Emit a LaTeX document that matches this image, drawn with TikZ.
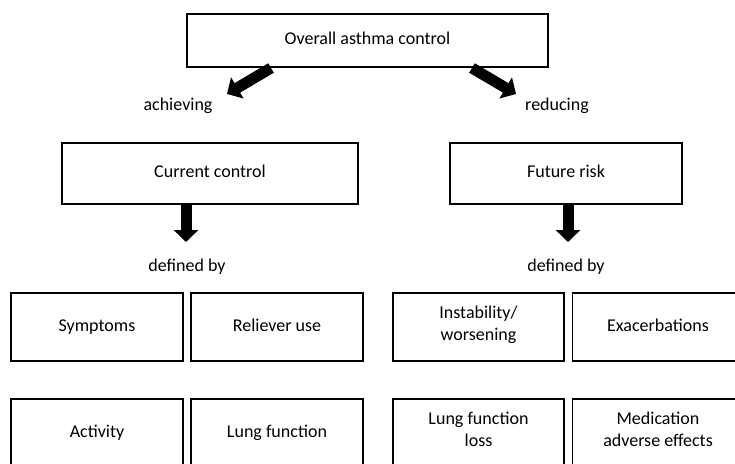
\documentclass[tikz,border=0pt]{standalone}
\usepackage{fontspec}
\setmainfont{Carlito}
\usetikzlibrary{arrows.meta}

\tikzset{
  box/.style={draw, line width=1.5pt, align=center, inner sep=0pt, execute at begin node=\strut},
  fat/.style={line width=11pt, -{Triangle[length=12pt,width=24pt]}},
}

\begin{document}
\begin{tikzpicture}[x=1pt, y=-1pt, font=\fontsize{18}{22}\selectfont]

\useasboundingbox (0,0) rectangle (735,463) ;
\clip (0,0) rectangle (735,463) ;

\node [box, minimum width=361pt, minimum height=53pt] (overall) at (367.5,40.5) {Overall asthma control} ;

\node (achieving) at (178,106) {achieving} ;
\node (reducing) at (557,106) {reducing} ;

\node [box, minimum width=296pt, minimum height=61pt] (current) at (210,173.5) {Current control} ;
\node [box, minimum width=232pt, minimum height=61pt] (future) at (566,173.5) {Future risk} ;

\node (defL) at (187,267) {defined by} ;
\node (defR) at (566,267) {defined by} ;

% current control, defined by
\node [box, minimum width=172pt, minimum height=68pt] (symptoms) at (97,327) {Symptoms} ;
\node [box, minimum width=172pt, minimum height=68pt] (reliever) at (277,327) {Reliever use} ;
\node [box, minimum width=172pt, minimum height=68pt] (activity) at (97,433) {Activity} ;
\node [box, minimum width=172pt, minimum height=68pt] (lungfn) at (277,433) {Lung function} ;

% future risk, defined by
\node [box, minimum width=171pt, minimum height=68pt] (instab) at (478.5,327) {Instability/\\worsening} ;
\node [box, minimum width=171pt, minimum height=68pt] (exacerb) at (658,327) {Exacerbations} ;
\node [box, minimum width=171pt, minimum height=68pt] (lungloss) at (478.5,433) {Lung function\\loss} ;
\node [box, minimum width=171pt, minimum height=68pt] (medic) at (658,433) {Medication\\adverse effects} ;

\coordinate (achieveTop) at (271,68) ;
\coordinate (achieveTip) at (227,94) ;
\coordinate (reduceTop) at (472,68) ;
\coordinate (reduceTip) at (516,94) ;
\coordinate (curTip) at (186,242) ;
\coordinate (futTip) at (568,242) ;

\draw [fat] (achieveTop) -- (achieveTip) ;
\draw [fat] (reduceTop) -- (reduceTip) ;
\draw [fat] (current.south -| curTip) -- (curTip) ;
\draw [fat] (future.south -| futTip) -- (futTip) ;

\end{tikzpicture}
\end{document}
